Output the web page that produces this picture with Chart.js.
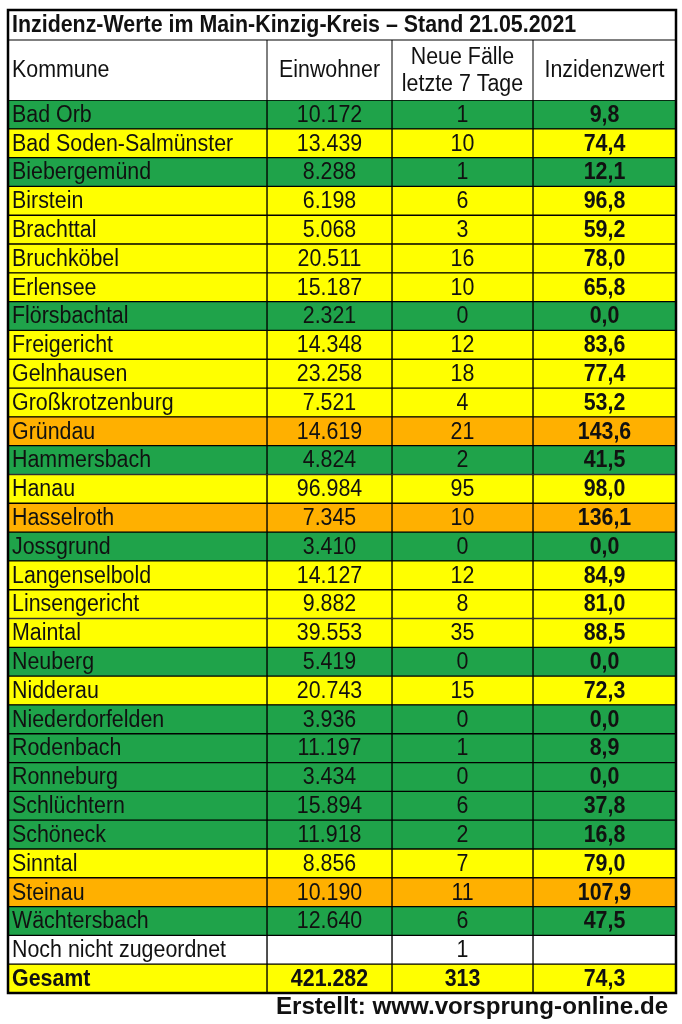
<!DOCTYPE html>
<html><head><meta charset="utf-8">
<script src="https://cdn.jsdelivr.net/npm/chart.js@4"></script>
<style>html,body{margin:0;padding:0;background:#fff}#w{width:682px;height:1024px}</style>
</head><body><div id="w"><canvas id="c"></canvas></div>
<script>
const title = "Inzidenz-Werte im Main-Kinzig-Kreis – Stand 21.05.2021";
const headers = ["Kommune", "Einwohner", "Neue Fälle\nletzte 7 Tage", "Inzidenzwert"];
const kommunen = ["Bad Orb","Bad Soden-Salmünster","Biebergemünd","Birstein","Brachttal","Bruchköbel","Erlensee","Flörsbachtal","Freigericht","Gelnhausen","Großkrotzenburg","Gründau","Hammersbach","Hanau","Hasselroth","Jossgrund","Langenselbold","Linsengericht","Maintal","Neuberg","Nidderau","Niederdorfelden","Rodenbach","Ronneburg","Schlüchtern","Schöneck","Sinntal","Steinau","Wächtersbach","Noch nicht zugeordnet","Gesamt"];
const einwohner = ["10.172","13.439","8.288","6.198","5.068","20.511","15.187","2.321","14.348","23.258","7.521","14.619","4.824","96.984","7.345","3.410","14.127","9.882","39.553","5.419","20.743","3.936","11.197","3.434","15.894","11.918","8.856","10.190","12.640","","421.282"];
const neueFaelle = ["1","10","1","6","3","16","10","0","12","18","4","21","2","95","10","0","12","8","35","0","15","0","1","0","6","2","7","11","6","1","313"];
const inzidenz = ["9,8","74,4","12,1","96,8","59,2","78,0","65,8","0,0","83,6","77,4","53,2","143,6","41,5","98,0","136,1","0,0","84,9","81,0","88,5","0,0","72,3","0,0","8,9","0,0","37,8","16,8","79,0","107,9","47,5","","74,3"];
const stufe = ["g","y","g","y","y","y","y","g","y","y","y","o","g","y","o","g","y","y","y","g","y","g","g","g","g","g","y","o","g","w","y"];

const colours = {g:"#1fa34a", y:"#ffff00", o:"#ffb000", w:"#ffffff"};
const colEdges = [0, 259, 384, 525, 668];
const FONT = '"Liberation Sans", Arial, sans-serif';
const FS = "23px ";
const SX = 0.93;
const cols = [kommunen, einwohner, neueFaelle, inzidenz];

function txt(ctx, s, x, y, align, bold, sx) {
  ctx.save();
  ctx.font = (bold ? "bold " : "") + FS + FONT;
  ctx.textAlign = align; ctx.textBaseline = "middle"; ctx.fillStyle = "#111";
  ctx.translate(x, y); ctx.scale(sx || SX, 1);
  ctx.fillText(s, 0, 0);
  ctx.restore();
}

const datasets = cols.map((c, ci) => ({
  data: kommunen.map(() => [colEdges[ci], colEdges[ci+1]]),
  backgroundColor: stufe.map(s => colours[s]),
  borderColor: "#000", borderWidth: 1, borderSkipped: false,
  categoryPercentage: 1, barPercentage: 1, grouped: false
}));

const textPlugin = {
  id: "tbl",
  afterDatasetsDraw(chart) {
    const ctx = chart.ctx, xs = chart.scales.x, a = chart.chartArea;
    ctx.save();
    cols.forEach((c, ci) => {
      const meta = chart.getDatasetMeta(ci);
      meta.data.forEach((bar, ri) => {
        const bold = ci === 3 || ri === kommunen.length - 1;
        const x0 = xs.getPixelForValue(colEdges[ci]), x1 = xs.getPixelForValue(colEdges[ci+1]);
        if (ci === 0) txt(ctx, c[ri], x0 + 4, bar.y + 1, "left", bold);
        else txt(ctx, c[ri], (x0 + x1) / 2, bar.y + 1, "center", bold);
      });
    });
    const tTop = 10, hTop = 40, hBot = a.top;
    ctx.fillStyle = "#fff";
    ctx.fillRect(a.left, tTop, a.right - a.left, hBot - tTop);
    ctx.strokeStyle = "#000"; ctx.lineWidth = 1;
    ctx.beginPath();
    ctx.moveTo(a.left, hTop); ctx.lineTo(a.right, hTop);
    colEdges.forEach(e => { const x = xs.getPixelForValue(e); ctx.moveTo(x, hTop); ctx.lineTo(x, hBot); });
    ctx.stroke();
    txt(ctx, title, a.left + 4, (tTop + hTop) / 2 + 1, "left", true);
    headers.forEach((h, i) => {
      const x0 = xs.getPixelForValue(colEdges[i]), x1 = xs.getPixelForValue(colEdges[i+1]);
      const lines = h.split("\n"), cy = (hTop + hBot) / 2;
      lines.forEach((l, li) => {
        const y = cy + (li - (lines.length - 1) / 2) * 27 + 1;
        if (i === 0) txt(ctx, l, x0 + 4, y, "left", false);
        else txt(ctx, l, (x0 + x1) / 2, y, "center", false);
      });
    });
    ctx.strokeStyle = "#000"; ctx.lineWidth = 2.5;
    ctx.strokeRect(a.left, tTop, a.right - a.left, a.bottom - tTop);
    txt(ctx, "Erstellt: www.vorsprung-online.de", 472, 1008, "center", true, 1.05);
    ctx.restore();
  }
};

new Chart(document.getElementById("c"), {
  type: "bar",
  data: { labels: kommunen, datasets },
  options: {
    indexAxis: "y", responsive: true, maintainAspectRatio: false, animation: false,
    layout: { padding: { left: 8, right: 6, top: 100, bottom: 31 } },
    plugins: { legend: { display: false }, tooltip: { enabled: false } },
    scales: {
      x: { type: "linear", min: 0, max: 668, display: false },
      y: { type: "category", display: false, offset: true }
    }
  },
  plugins: [textPlugin]
});
</script></body></html>
